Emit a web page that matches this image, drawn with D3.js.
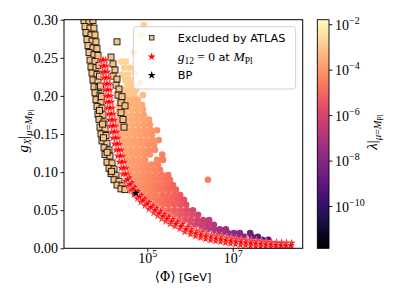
<!DOCTYPE html>
<html>
<head>
<meta charset="utf-8">
<script src="https://cdn.jsdelivr.net/npm/d3@7/dist/d3.min.js"></script>
<style>body{margin:0;background:#fff}</style>
</head>
<body>
<div id="chart"></div>
<script>
// x range of the plot in log10(<Phi>/GeV), y range in g_X
const phiRange = [3.05, 8.64];
const gRange = [0, 0.30];
const lamRange = [-11.86, -1.8];   // colorbar, log10(lambda)

const xTicks = [5, 7];
const yTicks = [0, 0.05, 0.10, 0.15, 0.20, 0.25, 0.30];
const cbTicks = [-2, -4, -6, -8, -10];

// scan points: [log10 Phi, g_X, log10 lambda]
const scan = [
 [4.92,0.293,-2.8],[4.85,0.280,-2.8],[4.71,0.257,-2.8],
 [4.39,0.245,-2.7],[4.50,0.245,-2.7],[4.46,0.237,-2.8],[4.60,0.237,-2.8],[4.71,0.230,-2.9],
 [4.41,0.228,-2.8],[4.55,0.228,-2.85],[4.48,0.221,-2.9],[4.62,0.221,-2.9],[4.83,0.217,-3.1],
 [4.53,0.215,-2.9],[4.67,0.215,-3.0],[4.46,0.208,-2.95],[4.60,0.208,-3.0],[4.74,0.208,-3.05],
 [4.41,0.201,-3.0],[4.55,0.201,-3.0],[4.69,0.201,-3.05],[4.90,0.201,-3.2],
 [4.36,0.195,-3.35],[4.50,0.195,-3.35],[4.64,0.195,-3.45],[4.78,0.195,-3.5],
 [4.34,0.188,-3.4],[4.46,0.188,-3.4],[4.60,0.188,-3.45],[4.74,0.188,-3.5],[4.88,0.188,-3.6],
 [4.34,0.182,-3.4],[4.48,0.182,-3.45],[4.62,0.182,-3.45],[4.76,0.182,-3.55],[4.90,0.182,-3.65],
 [4.36,0.175,-3.45],[4.50,0.175,-3.45],[4.64,0.175,-3.5],[4.78,0.175,-3.6],[4.92,0.175,-3.75],
 [4.34,0.169,-3.45],[4.48,0.169,-3.45],[4.62,0.169,-3.55],[4.76,0.169,-3.65],[4.90,0.169,-3.75],[5.04,0.169,-3.85],
 [4.36,0.162,-3.5],[4.50,0.162,-3.5],[4.64,0.162,-3.55],[4.78,0.162,-3.65],[4.92,0.162,-3.8],[5.06,0.162,-3.95],
 [4.39,0.155,-3.55],[4.53,0.155,-3.55],[4.67,0.155,-3.65],[4.81,0.155,-3.75],[4.95,0.155,-3.85],[5.09,0.155,-4.0],[5.23,0.155,-4.15],
 [4.41,0.149,-3.6],[4.55,0.149,-3.6],[4.69,0.149,-3.65],[4.83,0.149,-3.75],[4.97,0.149,-3.9],[5.11,0.149,-4.05],
 [4.43,0.142,-3.65],[4.57,0.142,-3.65],[4.71,0.142,-3.75],[4.85,0.142,-3.85],[4.99,0.142,-3.95],[5.13,0.142,-4.1],[5.27,0.142,-4.25],
 [4.46,0.136,-3.65],[4.60,0.136,-3.7],[4.74,0.136,-3.75],[4.88,0.136,-3.85],[5.02,0.136,-4.05],[5.16,0.136,-4.15],
 [4.48,0.129,-3.65],[4.62,0.129,-3.75],[4.76,0.129,-3.85],[4.90,0.129,-3.95],[5.04,0.129,-4.1],[5.18,0.129,-4.25],
 [4.50,0.123,-3.75],[4.64,0.123,-3.75],[4.78,0.123,-3.85],[4.92,0.123,-4.0],[5.06,0.123,-4.15],[5.35,0.123,-4.45],
 [4.53,0.116,-3.75],[4.67,0.116,-3.85],[4.81,0.116,-3.9],[4.95,0.116,-4.05],[5.23,0.116,-4.35],[5.37,0.116,-4.55],
 [4.57,0.110,-3.8],[4.69,0.110,-3.85],[4.83,0.110,-3.95],[4.97,0.110,-4.1],[5.11,0.110,-4.25],[5.25,0.110,-4.4],
 [4.60,0.103,-3.85],[4.74,0.103,-3.95],[4.88,0.103,-4.05],[5.02,0.103,-4.2],[5.16,0.103,-4.35],[5.30,0.103,-4.5],
 [4.64,0.096,-3.9],[4.78,0.096,-4.0],[4.92,0.096,-4.15],[5.06,0.096,-4.25],[5.20,0.096,-4.4],[5.35,0.096,-4.6],[5.49,0.096,-4.8],
 [4.69,0.090,-3.95],[4.83,0.090,-4.05],[4.97,0.090,-4.2],[5.11,0.090,-4.35],[5.25,0.090,-4.5],[5.39,0.090,-4.7],[5.53,0.090,-4.85],
 [4.76,0.083,-4.05],[4.90,0.083,-4.15],[5.04,0.083,-4.3],[5.18,0.083,-4.45],[5.32,0.083,-4.65],[5.46,0.083,-4.85],[5.60,0.083,-5.0],
 [4.83,0.077,-4.15],[4.97,0.077,-4.25],[5.11,0.077,-4.4],[5.25,0.077,-4.6],[5.39,0.077,-4.75],[5.53,0.077,-4.95],[5.67,0.077,-5.15],
 [4.92,0.070,-4.25],[5.06,0.070,-4.4],[5.20,0.070,-4.55],[5.35,0.070,-4.75],[5.49,0.070,-4.9],[5.63,0.070,-5.1],[5.77,0.070,-5.35],
 [5.02,0.0635,-4.4],[5.16,0.0635,-4.55],[5.30,0.0635,-4.7],[5.44,0.0635,-4.9],[5.58,0.0635,-5.05],[5.72,0.0635,-5.3],[5.86,0.0635,-5.5],
 [5.06,0.057,-4.45],[5.20,0.057,-4.6],[5.35,0.057,-4.8],[5.49,0.057,-5.0],[5.63,0.057,-5.2],[5.77,0.057,-5.4],[5.91,0.057,-5.65],
 [5.23,0.050,-4.7],[5.37,0.050,-4.85],[5.51,0.050,-5.05],[5.65,0.050,-5.25],[5.79,0.050,-5.45],[5.93,0.050,-5.7],[6.07,0.050,-5.95],
 [5.49,0.044,-4.9],[5.63,0.044,-5.1],[5.77,0.044,-5.3],[5.91,0.044,-5.55],[6.05,0.044,-5.8],[6.19,0.044,-6.05],
 [5.74,0.037,-5.3],[5.88,0.037,-5.5],[6.02,0.037,-5.75],[6.17,0.037,-6.05],[6.31,0.037,-6.3],[6.45,0.037,-6.6],
 [6.00,0.031,-5.75],[6.14,0.031,-6.05],[6.28,0.031,-6.3],[6.42,0.031,-6.55],[6.56,0.031,-6.8],
 [6.28,0.025,-6.3],[6.42,0.025,-6.6],[6.56,0.025,-6.85],[6.70,0.025,-7.15],[6.84,0.025,-7.4],
 [6.61,0.020,-7.0],[6.75,0.020,-7.25],[6.89,0.020,-7.5],[7.03,0.020,-7.7],[7.17,0.020,-8.0],[7.41,0.020,-8.45],
 [6.99,0.015,-7.65],[7.13,0.015,-7.95],[7.27,0.015,-8.2],[7.45,0.015,-8.55],[7.59,0.015,-8.85],
 [7.45,0.011,-8.6],[7.69,0.011,-9.05],[7.83,0.011,-9.5],
 [8.02,0.0057,-10.3],[8.16,0.0057,-10.8],
 [6.42,0.090,-4.5]
];

// points excluded by ATLAS: [log10 Phi, g_X]
const atlas = [
 [3.495,0.304],[3.612,0.305],[3.518,0.299],[3.635,0.297],[3.542,0.291],[3.659,0.289],
 [3.565,0.283],[3.682,0.280],[3.589,0.274],[3.706,0.272],[3.612,0.266],[3.729,0.263],
 [3.635,0.257],[3.752,0.254],[3.659,0.247],[3.776,0.245],[3.682,0.238],[3.799,0.237],
 [3.706,0.230],[3.823,0.228],[3.729,0.221],[3.846,0.220],[3.752,0.212],[3.869,0.211],
 [3.776,0.204],[3.893,0.201],[3.799,0.195],[3.916,0.192],[3.823,0.186],[3.940,0.184],
 [3.846,0.176],[3.963,0.175],[3.869,0.169],[3.987,0.166],[3.893,0.159],[4.010,0.157],
 [3.916,0.150],[4.034,0.148],[3.940,0.141],[4.057,0.138],[3.987,0.132],[4.104,0.129],
 [4.010,0.123],[4.127,0.121],[4.057,0.113],[4.174,0.112],[4.104,0.105],[4.221,0.104],
 [4.151,0.098],[4.268,0.096],[4.221,0.090],[4.338,0.088],[4.291,0.083],[4.408,0.082],
 [4.385,0.078],[4.479,0.077],
 [3.729,0.299],[3.752,0.289],[3.776,0.280],[3.799,0.271],[3.823,0.262],[3.846,0.253],
 [3.870,0.240],[3.880,0.226],[3.905,0.213],[3.925,0.199],[3.880,0.181],[3.955,0.163],
 [3.975,0.145],[4.060,0.126],[4.165,0.101],
 [4.291,0.271],[4.151,0.251],[4.198,0.242],[4.244,0.234],[4.198,0.226],[4.291,0.222],
 [4.268,0.214],[4.338,0.209],[4.315,0.201],[4.408,0.199],[4.385,0.191],[4.479,0.187],
 [4.385,0.178],[4.432,0.169],[4.455,0.159]
];

// points with g12 = 0 at M_Pl: [log10 Phi, g_X]
const g12zero = [
 [3.903,0.247],[4.023,0.247],[3.927,0.2395],[4.047,0.2395],[3.950,0.2317],[4.070,0.2317],
 [3.974,0.2238],[4.094,0.2238],[3.997,0.2159],[4.117,0.2159],[4.009,0.2080],[4.129,0.2080],
 [4.028,0.2001],[4.148,0.2001],[4.044,0.1922],[4.164,0.1922],[4.067,0.1844],[4.187,0.1844],
 [4.091,0.1765],[4.211,0.1765],[4.114,0.1686],[4.234,0.1686],[4.138,0.1607],[4.258,0.1607],
 [4.168,0.1528],[4.288,0.1528],[4.196,0.1449],[4.316,0.1449],[4.231,0.1371],[4.351,0.1371],
 [4.271,0.1292],[4.391,0.1292],[4.309,0.1213],[4.429,0.1213],[4.348,0.1134],[4.468,0.1134],
 [4.388,0.1055],[4.508,0.1055],[4.430,0.0976],[4.550,0.0976],
 [4.490,0.0882],[4.584,0.0926],[4.549,0.0816],[4.643,0.0860],[4.619,0.0757],[4.713,0.0801],
 [4.689,0.0705],[4.783,0.0749],[4.771,0.0652],[4.865,0.0696],[4.853,0.0606],[4.947,0.0650],
 [4.947,0.0560],[5.041,0.0604],[5.041,0.0514],[5.135,0.0558],
 [5.151,0.0467],[5.211,0.0527],[5.245,0.0427],[5.305,0.0487],[5.339,0.0388],[5.399,0.0448],
 [5.432,0.0355],[5.492,0.0415],[5.538,0.0320],[5.598,0.0380],[5.643,0.0289],[5.703,0.0349],
 [5.760,0.0256],[5.820,0.0316],[5.877,0.0217],[5.937,0.0277],
 [6.012,0.0185],[6.036,0.0251],[6.129,0.0161],[6.153,0.0227],[6.246,0.0142],[6.270,0.0208],
 [6.363,0.0123],[6.387,0.0189],[6.481,0.0108],[6.505,0.0174],[6.598,0.0094],[6.622,0.0160],
 [6.715,0.0087],[6.739,0.0153],[6.832,0.0075],[6.856,0.0141],[6.949,0.0064],[6.973,0.0130],
 [7.066,0.0055],[7.090,0.0121],[7.183,0.0047],[7.207,0.0113],[7.300,0.0041],[7.324,0.0107],
 [7.417,0.0034],[7.441,0.0100],[7.534,0.0029],[7.558,0.0095],[7.651,0.0024],[7.675,0.0090],
 [7.768,0.0020],[7.792,0.0086],[7.885,0.0016],[7.909,0.0082],[8.003,0.0012],[8.027,0.0078],
 [8.120,0.0009],[8.144,0.0075],[8.237,0.0006],[8.261,0.0072],[8.354,0.0004],[8.378,0.0070],
 // middle of the band
 [3.963,0.2474],[3.987,0.2395],[4.010,0.2317],[4.034,0.2238],[4.057,0.2159],[4.069,0.2080],
 [4.088,0.2001],[4.104,0.1922],[4.127,0.1844],[4.151,0.1765],[4.174,0.1686],[4.198,0.1607],
 [4.228,0.1528],[4.256,0.1449],[4.291,0.1371],[4.331,0.1292],[4.369,0.1213],[4.408,0.1134],
 [4.448,0.1055],[4.490,0.0976],[4.537,0.0904],[4.596,0.0838],[4.666,0.0779],[4.736,0.0727],
 [4.818,0.0674],[4.900,0.0628],[4.994,0.0582],[5.088,0.0536],[5.181,0.0497],[5.275,0.0457],
 [5.369,0.0418],[5.462,0.0385],[5.568,0.0350],[5.673,0.0319],[5.790,0.0286],[5.907,0.0247],
 [6.024,0.0218],[6.141,0.0194],[6.258,0.0175],[6.375,0.0156],[6.493,0.0141],[6.610,0.0127],
 [6.727,0.0120],[6.844,0.0108],[6.961,0.0097],[7.078,0.0088],[7.195,0.0080],[7.312,0.0074],
 [7.429,0.0067],[7.546,0.0062],[7.663,0.0057],[7.780,0.0053],[7.897,0.0049],[8.015,0.0045],
 [8.132,0.0042],[8.249,0.0039],[8.366,0.0037]
];

const benchmark = [4.73, 0.0723];

const W = 399, H = 299;
const box = {left: 64, right: 302.7, top: 19.7, bottom: 248.3};
const cbBox = {left: 317.3, right: 329};
const serif = "'Liberation Serif', 'DejaVu Serif', serif";
const sans = "'DejaVu Sans', sans-serif";

const svg = d3.select("#chart").append("svg")
    .attr("width", W).attr("height", H)
    .style("background", "#fff");

const x = d3.scaleLog().domain(phiRange.map(e => Math.pow(10, e))).range([box.left, box.right]);
const y = d3.scaleLinear().domain(gRange).range([box.bottom, box.top]);
const color = d3.scaleSequential(d3.interpolateMagma).domain(lamRange);
const px = d => x(Math.pow(10, d[0]));

const defs = svg.append("defs");
defs.append("clipPath").attr("id", "clip").append("rect")
    .attr("x", box.left).attr("y", box.top)
    .attr("width", box.right - box.left).attr("height", box.bottom - box.top);

const marks = svg.append("g").attr("clip-path", "url(#clip)");

marks.selectAll(".scan").data(scan).join("circle")
    .attr("class", "scan")
    .attr("cx", px).attr("cy", d => y(d[1]))
    .attr("r", 3.3)
    .attr("fill", d => color(d[2]));

marks.selectAll(".atlas").data(atlas).join("rect")
    .attr("class", "atlas")
    .attr("x", d => px(d) - 3).attr("y", d => y(d[1]) - 3)
    .attr("width", 6).attr("height", 6)
    .attr("fill", "#f6c185").attr("stroke", "#111").attr("stroke-width", 0.9);

const star = d3.symbol(d3.symbolStar, 23);
marks.selectAll(".g12").data(g12zero).join("path")
    .attr("class", "g12")
    .attr("transform", d => `translate(${px(d)},${y(d[1])})`)
    .attr("d", star)
    .attr("fill", "#ff0000").attr("stroke", "#fff").attr("stroke-width", 0.3);

marks.append("path")
    .attr("transform", `translate(${px(benchmark)},${y(benchmark[1])})`)
    .attr("d", d3.symbol(d3.symbolStar, 22))
    .attr("fill", "#000");

// frame
svg.append("rect")
    .attr("x", box.left).attr("y", box.top)
    .attr("width", box.right - box.left).attr("height", box.bottom - box.top)
    .attr("fill", "none").attr("stroke", "#000").attr("stroke-width", 1);

// y axis
const yAxis = svg.append("g").attr("transform", `translate(${box.left},0)`)
    .call(d3.axisLeft(y).tickValues(yTicks).tickSize(3.5).tickPadding(2.5).tickFormat(d3.format(".2f")));
yAxis.select(".domain").remove();
yAxis.selectAll("line").attr("stroke", "#000").attr("stroke-width", 0.9);
yAxis.selectAll("text").attr("fill", "#000")
    .style("font-family", serif).style("font-size", "14px");

// x axis
const xAxis = svg.append("g").attr("transform", `translate(0,${box.bottom})`)
    .call(d3.axisBottom(x).tickValues(xTicks.map(e => Math.pow(10, e))).tickSize(3.5).tickFormat(""));
xAxis.select(".domain").remove();
xAxis.selectAll("line").attr("stroke", "#000").attr("stroke-width", 0.9);
xAxis.selectAll(".tick text").remove();
xAxis.selectAll(".tick").append("text")
    .attr("y", 15).attr("text-anchor", "middle").attr("fill", "#000")
    .style("font-family", serif)
    .each(function(d) {
        const t = d3.select(this);
        t.append("tspan").style("font-size", "14px").text("10");
        t.append("tspan").style("font-size", "10px").attr("dy", -6).text(Math.round(Math.log10(d)));
    });

svg.append("text")
    .attr("x", 183).attr("y", 281).attr("text-anchor", "middle").attr("fill", "#000")
    .call(t => {
        t.append("tspan").style("font-family", "'DejaVu Serif', serif").style("font-size", "13px").text("\u27E8\u03A6\u27E9");
        t.append("tspan").style("font-family", sans).style("font-size", "11.3px").text(" [GeV]");
    });

// y label
svg.append("text")
    .attr("transform", "translate(28,131) rotate(-90)")
    .attr("text-anchor", "middle").attr("fill", "#000")
    .style("font-family", serif)
    .call(t => {
        t.append("tspan").style("font-size", "15px").style("font-style", "italic").text("g");
        t.append("tspan").style("font-size", "10.5px").style("font-style", "italic").attr("dy", 3).text("X");
        t.append("tspan").style("font-size", "15px").attr("dy", -3).text("|");
        t.append("tspan").style("font-size", "10.5px").style("font-style", "italic").attr("dy", 4).text("\u03BC");
        t.append("tspan").style("font-size", "10.5px").text("=");
        t.append("tspan").style("font-size", "10.5px").style("font-style", "italic").text("M");
        t.append("tspan").style("font-size", "7.5px").attr("dy", 2).text("Pl");
    });

// colorbar
const grad = defs.append("linearGradient").attr("id", "cbgrad")
    .attr("x1", 0).attr("y1", 1).attr("x2", 0).attr("y2", 0);
grad.selectAll("stop").data(d3.range(0, 1.0001, 0.05)).join("stop")
    .attr("offset", d => d).attr("stop-color", d => d3.interpolateMagma(d));

svg.append("rect")
    .attr("x", cbBox.left).attr("y", box.top)
    .attr("width", cbBox.right - cbBox.left).attr("height", box.bottom - box.top)
    .attr("fill", "url(#cbgrad)").attr("stroke", "#000").attr("stroke-width", 0.9);

const cbScale = d3.scaleLinear().domain(lamRange).range([box.bottom, box.top]);
const cbAxis = svg.append("g").attr("transform", `translate(${cbBox.right},0)`)
    .call(d3.axisRight(cbScale).tickValues(cbTicks).tickSize(3.5).tickFormat(""));
cbAxis.select(".domain").remove();
cbAxis.selectAll("line").attr("stroke", "#000").attr("stroke-width", 0.9);
cbAxis.selectAll(".tick text").remove();
cbAxis.selectAll(".tick").append("text")
    .attr("x", 6).attr("y", 5).attr("fill", "#000")
    .style("font-family", serif)
    .each(function(d) {
        const t = d3.select(this);
        t.append("tspan").style("font-size", "14px").text("10");
        t.append("tspan").style("font-size", "10px").attr("dy", -6).text("\u2212" + Math.abs(d));
    });

svg.append("text")
    .attr("transform", "translate(377,132) rotate(-90)")
    .attr("text-anchor", "middle").attr("fill", "#000")
    .style("font-family", serif)
    .call(t => {
        t.append("tspan").style("font-size", "15px").style("font-style", "italic").text("\u03BB");
        t.append("tspan").style("font-size", "15px").text("|");
        t.append("tspan").style("font-size", "10.5px").style("font-style", "italic").attr("dy", 4).text("\u03BC");
        t.append("tspan").style("font-size", "10.5px").text("=");
        t.append("tspan").style("font-size", "10.5px").style("font-style", "italic").text("M");
        t.append("tspan").style("font-size", "7.5px").attr("dy", 2).text("Pl");
    });

// legend
const lg = svg.append("g");
lg.append("rect")
    .attr("x", 133.3).attr("y", 26.7).attr("width", 162.4).attr("height", 62.3).attr("rx", 3)
    .attr("fill", "#fff").attr("fill-opacity", 0.8).attr("stroke", "#ccc").attr("stroke-width", 0.9);
lg.append("rect")
    .attr("x", 149.5).attr("y", 35.5).attr("width", 4.5).attr("height", 4.5)
    .attr("fill", "#f6c185").attr("stroke", "#111").attr("stroke-width", 0.8);
lg.append("path").attr("transform", "translate(151.7,56.7)")
    .attr("d", d3.symbol(d3.symbolStar, 20)).attr("fill", "#ff0000");
lg.append("path").attr("transform", "translate(151.7,75.3)")
    .attr("d", d3.symbol(d3.symbolStar, 20)).attr("fill", "#000");

lg.append("text").attr("x", 177.7).attr("y", 41.8).attr("fill", "#000")
    .style("font-family", sans).style("font-size", "11.3px").text("Excluded by ATLAS");
lg.append("text").attr("x", 177.7).attr("y", 61).attr("fill", "#000")
    .style("font-family", serif)
    .call(t => {
        t.append("tspan").style("font-size", "13.5px").style("font-style", "italic").text("g");
        t.append("tspan").style("font-size", "9.5px").attr("dy", 2.5).text("12");
        t.append("tspan").style("font-size", "13.5px").attr("dy", -2.5).text(" = 0 ");
        t.append("tspan").style("font-family", sans).style("font-size", "11.3px").text("at ");
        t.append("tspan").style("font-size", "13.5px").style("font-style", "italic").text("M");
        t.append("tspan").style("font-size", "9.5px").attr("dy", 2.5).text("Pl");
    });
lg.append("text").attr("x", 177.7).attr("y", 79.3).attr("fill", "#000")
    .style("font-family", sans).style("font-size", "11.3px").text("BP");
</script>
</body>
</html>
